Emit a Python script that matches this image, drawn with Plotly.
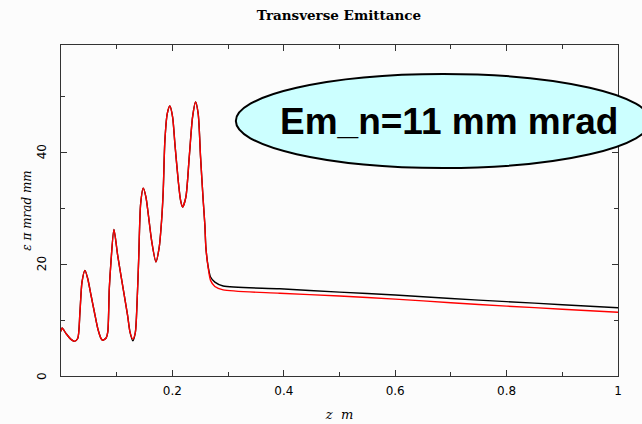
import plotly.graph_objects as go

# ---- data ----
z_black = [0.000, 0.002, 0.009, 0.018, 0.024, 0.030, 0.034, 0.0377, 0.043, 0.048,
           0.054, 0.060, 0.066, 0.072, 0.075, 0.081, 0.084, 0.0867, 0.0897, 0.095,
           0.1017, 0.1076, 0.1136, 0.1196, 0.1238, 0.129, 0.1335, 0.1365, 0.1395, 0.143,
           0.1477, 0.1525, 0.1566, 0.1627, 0.1704, 0.1763, 0.1806, 0.1835, 0.1865, 0.1907,
           0.1955, 0.2004, 0.2045, 0.2105, 0.2147, 0.2183, 0.2242, 0.2302, 0.2362, 0.2416,
           0.2463, 0.2506, 0.2553, 0.2583, 0.2601, 0.2643, 0.2685, 0.2762, 0.2911, 0.3928,
           0.5, 0.6, 0.7, 0.8, 0.9, 1.0]
em_black = [8.0, 8.6, 7.6, 6.55, 6.2, 6.7, 11.4, 16.8, 18.9, 17.4,
            14.4, 11.4, 8.5, 6.7, 6.4, 6.8, 7.9, 15.6, 20.4, 26.2,
            21.6, 18.0, 14.4, 10.8, 7.9, 6.3, 7.8, 13.0, 21.0, 30.8,
            33.6, 32.0, 29.0, 24.2, 20.4, 23.0, 27.8, 33.0, 42.1, 46.9,
            48.3, 46.3, 41.5, 34.9, 31.4, 30.2, 32.0, 39.1, 46.3, 49.0,
            46.9, 39.1, 31.4, 27.0, 23.0, 19.5, 17.7, 16.8, 16.1, 15.6,
            15.0, 14.5, 13.85, 13.3, 12.75, 12.2]

z_red = z_black
em_red = [8.0, 8.6, 7.6, 6.55, 6.2, 6.7, 11.4, 16.8, 18.9, 17.4,
          14.4, 11.4, 8.5, 6.7, 6.4, 6.8, 7.9, 15.6, 20.4, 26.2,
          21.6, 18.0, 14.4, 10.8, 7.9, 6.6, 7.8, 13.0, 21.0, 30.8,
          33.6, 32.0, 29.0, 24.2, 20.4, 23.0, 27.8, 33.0, 42.1, 46.9,
          48.3, 46.3, 41.5, 34.9, 31.4, 30.2, 32.0, 39.1, 46.3, 49.0,
          46.9, 39.1, 31.4, 27.0, 23.0, 19.3, 17.1, 16.0, 15.4, 14.8,
          14.3, 13.75, 13.1, 12.5, 11.95, 11.4]

x_tickvals = [0, 0.2, 0.4, 0.6, 0.8, 1.0]
x_ticktext = ["", "0.2", "0.4", "0.6", "0.8", "1"]
y_tickvals = [0, 20, 40]
y_ticktext = ["0", "20", "40"]

title_text = "Transverse Emittance"
note_text = "Em_n=11 mm mrad"

W, H = 642, 424
L, R, T, B = 61, 23.5, 45, 48
pw, ph = W - L - R, H - T - B

def px_to_paper_x(px):
    return (px - L) / pw

def px_to_paper_y(py):
    return (H - B - py) / ph

fig = go.Figure()
fig.add_trace(go.Scatter(x=z_black, y=em_black, mode="lines",
                         line=dict(color="black", width=1.4, shape="spline", smoothing=0.7),
                         showlegend=False))
fig.add_trace(go.Scatter(x=z_red, y=em_red, mode="lines",
                         line=dict(color="#ff0000", width=1.4, shape="spline", smoothing=0.7),
                         showlegend=False))

tick_font = dict(family="DejaVu Sans", size=12, color="black")
axis_common = dict(showline=True, linecolor="#333333", linewidth=1, mirror="ticks",
                   ticks="inside", ticklen=6, tickcolor="#333333", showgrid=False,
                   zeroline=False, tickfont=tick_font, automargin=False)

fig.update_xaxes(range=[0, 1], tickvals=x_tickvals, ticktext=x_ticktext,
                 ticklabelstandoff=4,
                 minor=dict(dtick=0.1, tick0=0, ticks="inside", ticklen=4, tickcolor="#333333"),
                 title=dict(text="<i>z  m</i>", font=dict(family="DejaVu Serif", size=13, color="black"),
                            standoff=12),
                 **axis_common)
fig.update_yaxes(range=[0, 59.2], tickvals=y_tickvals, ticktext=[""] * len(y_tickvals),
                 minor=dict(dtick=10, tick0=0, ticks="inside", ticklen=4, tickcolor="#333333"),
                 title=dict(text="<i>\u03b5 \u03c0 mrad mm</i>",
                            font=dict(family="DejaVu Serif", size=12, color="black"), standoff=23),
                 **axis_common)

# rotated y tick labels placed at the tick values
for v, t in zip(y_tickvals, y_ticktext):
    fig.add_annotation(xref="paper", yref="y", x=-19 / pw, y=v, text=t, textangle=-90,
                       showarrow=False, font=tick_font, xanchor="center", yanchor="middle")

# ellipse callout
fig.add_shape(type="circle", xref="paper", yref="paper",
              x0=px_to_paper_x(236), x1=px_to_paper_x(651),
              y0=px_to_paper_y(168), y1=px_to_paper_y(74),
              fillcolor="#ccffff", line=dict(color="black", width=2), layer="above")
fig.add_annotation(xref="paper", yref="paper", x=px_to_paper_x(449), y=px_to_paper_y(122),
                   text="<b>" + note_text + "</b>", showarrow=False,
                   font=dict(family="Liberation Sans", size=37, color="black"),
                   xanchor="center", yanchor="middle")

fig.update_layout(
    width=W, height=H,
    margin=dict(l=L, r=R, t=T, b=B, autoexpand=False),
    paper_bgcolor="#fcfcfc", plot_bgcolor="#fcfcfc",
    title=dict(text="<b>" + title_text + "</b>", x=339 / W, xanchor="center",
               y=1 - 15 / H, yanchor="middle", yref="container",
               font=dict(family="DejaVu Serif", size=13.5, color="black")),
)

fig.write_html("out.html")
